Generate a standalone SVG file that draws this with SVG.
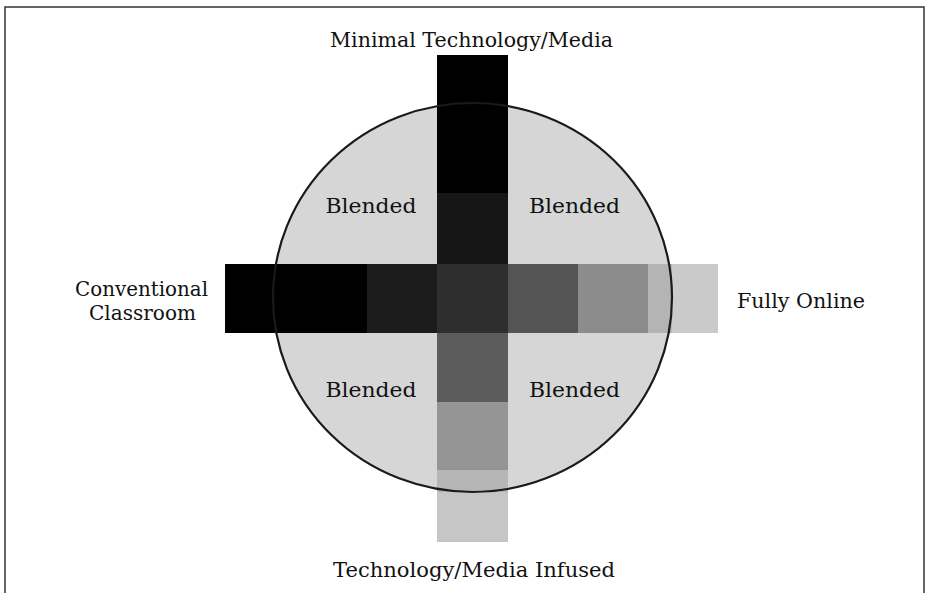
<svg xmlns="http://www.w3.org/2000/svg" width="927" height="593" viewBox="0 0 927 593">
<style>
text{font-family:"DejaVu Serif","Liberation Serif",serif;font-size:20px;fill:#111}
.mid{text-anchor:middle}
.ring{fill:none;stroke:#1a1a1a;stroke-width:2.2}
</style>
<rect x="0" y="0" width="927" height="593" fill="#ffffff"/>
<rect x="5" y="7" width="919" height="600" fill="none" stroke="#333" stroke-width="1.5"/>
<g id="circle">
<ellipse cx="472.5" cy="297.5" rx="199.5" ry="194.5" fill="#d6d6d6"/>
</g>
<g id="horizontal-bar">
<rect x="225" y="264" width="142" height="69" fill="#000"/>
<rect x="367" y="264" width="70" height="69" fill="#1c1c1c"/>
<rect x="508" y="264" width="70" height="69" fill="#545454"/>
<rect x="578" y="264" width="70" height="69" fill="#8c8c8c"/>
<rect x="648" y="264" width="24" height="69" fill="#b4b4b4"/>
<rect x="672" y="264" width="46" height="69" fill="#cacaca"/>
</g>
<g id="vertical-bar">
<rect x="437" y="55" width="71" height="138" fill="#000"/>
<rect x="437" y="193" width="71" height="71" fill="#161616"/>
<rect x="437" y="264" width="71" height="69" fill="#2e2e2e"/>
<rect x="437" y="333" width="71" height="69" fill="#5c5c5c"/>
<rect x="437" y="402" width="71" height="68" fill="#959595"/>
<rect x="437" y="470" width="71" height="22" fill="#b6b6b6"/>
<rect x="437" y="492" width="71" height="50" fill="#c6c6c6"/>
</g>
<g id="circle-outline">
<ellipse class="ring" cx="472.5" cy="297.5" rx="199.5" ry="194.5"/>
</g>
<g id="label-minimal"><text class="mid" x="471.5" y="47" textLength="283" lengthAdjust="spacingAndGlyphs">Minimal Technology/Media</text></g>
<g id="label-conventional"><text class="mid" x="141.5" y="296" textLength="133" lengthAdjust="spacingAndGlyphs">Conventional</text><text class="mid" x="142.5" y="320" textLength="107" lengthAdjust="spacingAndGlyphs">Classroom</text></g>
<g id="label-online"><text x="737" y="308" textLength="128" lengthAdjust="spacingAndGlyphs">Fully Online</text></g>
<g id="label-infused"><text class="mid" x="474" y="577" textLength="282" lengthAdjust="spacingAndGlyphs">Technology/Media Infused</text></g>
<g id="blended-tl"><text class="mid" x="371" y="213" textLength="91" lengthAdjust="spacingAndGlyphs">Blended</text></g>
<g id="blended-tr"><text class="mid" x="574.5" y="213" textLength="91" lengthAdjust="spacingAndGlyphs">Blended</text></g>
<g id="blended-bl"><text class="mid" x="371" y="397" textLength="91" lengthAdjust="spacingAndGlyphs">Blended</text></g>
<g id="blended-br"><text class="mid" x="574.5" y="397" textLength="91" lengthAdjust="spacingAndGlyphs">Blended</text></g>
<g id="connectors"></g>
</svg>
